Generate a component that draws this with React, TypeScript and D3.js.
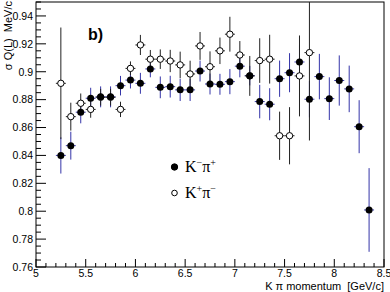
import React, { useEffect, useRef } from "react";
import * as d3 from "d3";

// bin centres [GeV/c]
const momentum = [
  5.25, 5.35, 5.45, 5.55, 5.65, 5.75, 5.85, 5.95, 6.05, 6.15, 6.25, 6.35, 6.45, 6.55, 6.65, 6.75,
  6.85, 6.95, 7.05, 7.15, 7.25, 7.35, 7.45, 7.55, 7.65, 7.75, 7.85, 7.95, 8.05, 8.15, 8.25, 8.35,
];

// K- pi+ (filled)
const kmPipVal = [
  0.84, 0.847, 0.871, 0.881, 0.882, 0.882, 0.89, 0.894, 0.8917, 0.902, 0.8888, 0.8893, 0.887, 0.887,
  0.9005, 0.8912, 0.891, 0.8929, 0.904, 0.8972, 0.8786, 0.8767, 0.895, 0.8993, 0.907, 0.8803, 0.8965,
  0.8807, 0.8937, 0.8877, 0.8606, 0.8009,
];
const kmPipErr = [
  0.013, 0.01, 0.008, 0.0075, 0.0075, 0.0075, 0.007, 0.006, 0.0075, 0.006, 0.0078, 0.0078, 0.008,
  0.008, 0.0075, 0.0075, 0.0075, 0.009, 0.008, 0.007, 0.012, 0.0115, 0.013, 0.014, 0.012, 0.013,
  0.0163, 0.0153, 0.018, 0.0167, 0.019, 0.03,
];

// K+ pi- (open), first 26 bins only
const kpPimVal = [
  0.8917, 0.8678, 0.8774, 0.873, 0.8817, 0.8817, 0.873, 0.9024, 0.9192, 0.909, 0.909, 0.9077, 0.9049,
  0.8984, 0.9185, 0.9036, 0.915, 0.9269, 0.912, 0.897, 0.908, 0.909, 0.8541, 0.8541, 0.897, 0.9137,
];
const kpPimErr = [
  0.04, 0.01, 0.007, 0.006, 0.006, 0.006, 0.0055, 0.005, 0.0072, 0.0066, 0.007, 0.008, 0.0095, 0.0095,
  0.01, 0.011, 0.0095, 0.0125, 0.01, 0.0143, 0.016, 0.0175, 0.0173, 0.0205, 0.029, 0.063,
];

const xTicks = [5, 5.5, 6, 6.5, 7, 7.5, 8, 8.5];
const yTicks = [0.76, 0.78, 0.8, 0.82, 0.84, 0.86, 0.88, 0.9, 0.92, 0.94];

const W = 390;
const H = 292;

const App = () => {
  const svgRef = useRef(null);

  useEffect(() => {
    const svg = d3.select(svgRef.current);
    svg.selectAll("*").remove();

    const x = d3.scaleLinear().domain([5, 8.5]).range([36, 384]);
    const y = d3.scaleLinear().domain([0.76, 0.95]).range([267, 2]);
    const [x0, x1] = x.range();
    const [y0, y1] = y.range();

    svg
      .append("defs")
      .append("clipPath")
      .attr("id", "frame")
      .append("rect")
      .attr("x", x0)
      .attr("y", y1)
      .attr("width", x1 - x0)
      .attr("height", y0 - y1);

    // minor + major ticks, pointing inwards (ROOT style)
    const ax = svg.append("g").attr("stroke", "#000").attr("stroke-width", 1);
    d3.ticks(5, 8.5, 35).forEach((t) => {
      const major = xTicks.some((m) => Math.abs(m - t) < 1e-6);
      ax.append("line")
        .attr("x1", x(t)).attr("x2", x(t))
        .attr("y1", y0).attr("y2", y0 - (major ? 8 : 4));
    });
    d3.ticks(0.76, 0.95, 38).forEach((t) => {
      const major = yTicks.some((m) => Math.abs(m - t) < 1e-6);
      ax.append("line")
        .attr("x1", x0).attr("x2", x0 + (major ? 10 : 5))
        .attr("y1", y(t)).attr("y2", y(t));
    });

    // frame
    svg
      .append("rect")
      .attr("x", x0)
      .attr("y", y1)
      .attr("width", x1 - x0)
      .attr("height", y0 - y1)
      .attr("fill", "none")
      .attr("stroke", "#000");

    const font = "'Liberation Sans', Arial, sans-serif";

    svg
      .append("g")
      .selectAll("text")
      .data(xTicks)
      .enter()
      .append("text")
      .attr("x", (d) => x(d))
      .attr("y", 276.5)
      .attr("text-anchor", "middle")
      .attr("font-family", font)
      .attr("font-size", 10.5)
      .text((d) => String(d));

    svg
      .append("g")
      .selectAll("text")
      .data(yTicks)
      .enter()
      .append("text")
      .attr("x", 33)
      .attr("y", (d) => y(d))
      .attr("dy", "0.36em")
      .attr("text-anchor", "end")
      .attr("font-family", font)
      .attr("font-size", 10.5)
      .text((d) => String(+d.toFixed(2)));

    // axis titles
    svg
      .append("text")
      .attr("x", x1)
      .attr("y", 289.5)
      .attr("text-anchor", "end")
      .attr("font-family", font)
      .attr("font-size", 11)
      .attr("xml:space", "preserve")
      .text("K π momentum  [GeV/c]");

    svg
      .append("text")
      .attr("transform", `translate(11.5,1) rotate(-90)`)
      .attr("text-anchor", "end")
      .attr("font-family", font)
      .attr("font-size", 11)
      .attr("xml:space", "preserve")
      .text("σ Q(L)  MeV/c");

    svg
      .append("text")
      .attr("x", 88)
      .attr("y", 40)
      .attr("font-family", font)
      .attr("font-size", 16)
      .attr("font-weight", "bold")
      .text("b)");

    const filled = momentum.map((m, i) => ({ m, v: kmPipVal[i], e: kmPipErr[i] }));
    const open = kpPimVal.map((v, i) => ({ m: momentum[i], v, e: kpPimErr[i] }));

    const plot = svg.append("g").attr("clip-path", "url(#frame)");

    const drawErr = (data, color) => {
      const g = plot.append("g").attr("stroke", color).attr("stroke-width", 1);
      data.forEach((d) => {
        g.append("line")
          .attr("x1", x(d.m)).attr("x2", x(d.m))
          .attr("y1", y(d.v - d.e)).attr("y2", y(d.v + d.e));
        g.append("line")
          .attr("x1", x(d.m - 0.05)).attr("x2", x(d.m + 0.05))
          .attr("y1", y(d.v)).attr("y2", y(d.v));
      });
    };

    drawErr(filled, "#3434a8");
    drawErr(open, "#222");

    plot
      .append("g")
      .selectAll("circle")
      .data(open)
      .enter()
      .append("circle")
      .attr("cx", (d) => x(d.m))
      .attr("cy", (d) => y(d.v))
      .attr("r", 3.2)
      .attr("fill", "#fff")
      .attr("stroke", "#000");

    plot
      .append("g")
      .selectAll("circle")
      .data(filled)
      .enter()
      .append("circle")
      .attr("cx", (d) => x(d.m))
      .attr("cy", (d) => y(d.v))
      .attr("r", 3.5)
      .attr("fill", "#000");

    // legend
    const legend = [
      { label: "K", sup1: "−", p: "π", sup2: "+", filled: true },
      { label: "K", sup1: "+", p: "π", sup2: "−", filled: false },
    ];
    legend.forEach((l, i) => {
      const ly = 167 + i * 26;
      svg
        .append("circle")
        .attr("cx", 174.5)
        .attr("cy", ly)
        .attr("r", l.filled ? 3.2 : 2.8)
        .attr("fill", l.filled ? "#000" : "#fff")
        .attr("stroke", "#000");
      const t = svg
        .append("text")
        .attr("x", 185)
        .attr("y", ly + 5)
        .attr("font-family", "'Liberation Serif', 'Times New Roman', serif")
        .attr("font-size", 16);
      t.append("tspan").text(l.label);
      t.append("tspan").attr("font-size", 10).attr("dy", -6).text(l.sup1);
      t.append("tspan").attr("dy", 6).text(l.p);
      t.append("tspan").attr("font-size", 10).attr("dy", -6).text(l.sup2);
    });
  }, []);

  return (
    <svg
      ref={svgRef}
      width={W}
      height={H}
      style={{ position: "absolute", left: 0, top: 0, background: "#fff" }}
    ></svg>
  );
};

export default App;
